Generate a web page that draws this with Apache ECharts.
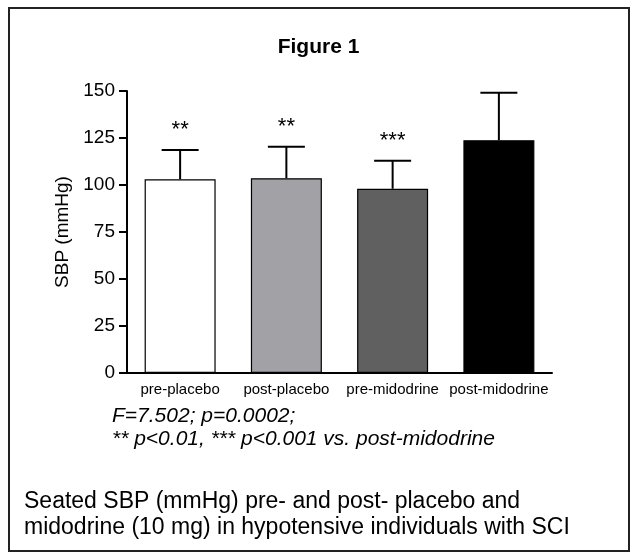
<!DOCTYPE html>
<html>
<head>
<meta charset="utf-8">
<script src="https://cdn.jsdelivr.net/npm/echarts@6/dist/echarts.min.js"></script>
<style>
  html, body { margin: 0; padding: 0; background: #fff; }
  #chart { width: 637px; height: 554px; }
</style>
</head>
<body>
<div id="chart"></div>
<script>
// values
const categories = ['pre-placebo', 'post-placebo', 'pre-midodrine', 'post-midodrine']
const sbpMean = [103, 103.6, 98, 123.8]
const sbpSD = [15.6, 16.8, 14.9, 25.3]
const stars = ['**', '**', '***', '']
const barColors = ['#ffffff', '#a2a1a6', '#606060', '#000000']
const yTicks = [0, 25, 50, 75, 100, 125, 150]

const chart = echarts.init(document.getElementById('chart'))
const font = 'Liberation Sans, Arial, sans-serif'

const option = {
  animation: false,
  title: {
    text: 'Figure 1',
    left: 'center',
    top: 32,
    textStyle: { fontFamily: font, fontSize: 21, fontWeight: 'bold', color: '#000' }
  },
  grid: { left: 127, right: 85, top: 91, bottom: 181 },
  xAxis: {
    type: 'category',
    data: categories,
    axisLine: { lineStyle: { color: '#000', width: 2 } },
    axisTick: { alignWithLabel: true, length: 7, lineStyle: { color: '#000', width: 2 } },
    axisLabel: { fontFamily: font, fontSize: 15, color: '#000', margin: 9, interval: 0 }
  },
  yAxis: {
    type: 'value',
    min: yTicks[0],
    max: yTicks[yTicks.length - 1],
    interval: 25,
    name: 'SBP (mmHg)',
    nameLocation: 'middle',
    nameGap: 50,
    nameTextStyle: { fontFamily: font, fontSize: 19, color: '#000' },
    axisLine: { show: true, lineStyle: { color: '#000', width: 2 } },
    axisTick: { show: true, length: 8, lineStyle: { color: '#000', width: 2 } },
    axisLabel: { fontFamily: font, fontSize: 19, color: '#000', margin: 12 },
    splitLine: { show: false }
  },
  series: [
    {
      type: 'bar',
      data: sbpMean.map((v, i) => ({
        value: v,
        itemStyle: { color: barColors[i], borderColor: '#000', borderWidth: 1.2 }
      })),
      barWidth: 71,
      z: 2
    },
    {
      type: 'custom',
      data: sbpMean.map((v, i) => [i, v, sbpSD[i]]),
      z: 3,
      renderItem: (params, api) => {
        const i = api.value(0)
        const base = api.coord([i, api.value(1)])
        const top = api.coord([i, api.value(1) + api.value(2)])
        const half = 18.5
        const style = { stroke: '#000', lineWidth: 2 }
        const children = [
          { type: 'line', shape: { x1: base[0], y1: base[1], x2: top[0], y2: top[1] }, style },
          { type: 'line', shape: { x1: top[0] - half, y1: top[1], x2: top[0] + half, y2: top[1] }, style }
        ]
        if (stars[i]) {
          children.push({
            type: 'text',
            style: {
              text: stars[i],
              x: top[0],
              y: top[1] - 20,
              align: 'center',
              verticalAlign: 'middle',
              font: '22px ' + font,
              fill: '#000'
            }
          })
        }
        return { type: 'group', children }
      }
    }
  ],
  graphic: [
    {
      type: 'rect',
      shape: { x: 9, y: 8, width: 620, height: 543 },
      style: { fill: 'none', stroke: '#222', lineWidth: 2 },
      silent: true
    },
    {
      type: 'text',
      left: 112,
      top: 405,
      style: {
        text: 'F=7.502; p=0.0002;\n** p<0.01, *** p<0.001 vs. post-midodrine',
        font: 'italic 21px ' + font,
        lineHeight: 23,
        fill: '#000'
      }
    },
    {
      type: 'text',
      left: 24,
      top: 489,
      style: {
        text: 'Seated SBP (mmHg) pre- and post- placebo and\nmidodrine (10 mg) in hypotensive individuals with SCI',
        font: '23px ' + font,
        lineHeight: 26,
        fill: '#000'
      }
    }
  ]
}

chart.setOption(option)
</script>
</body>
</html>
